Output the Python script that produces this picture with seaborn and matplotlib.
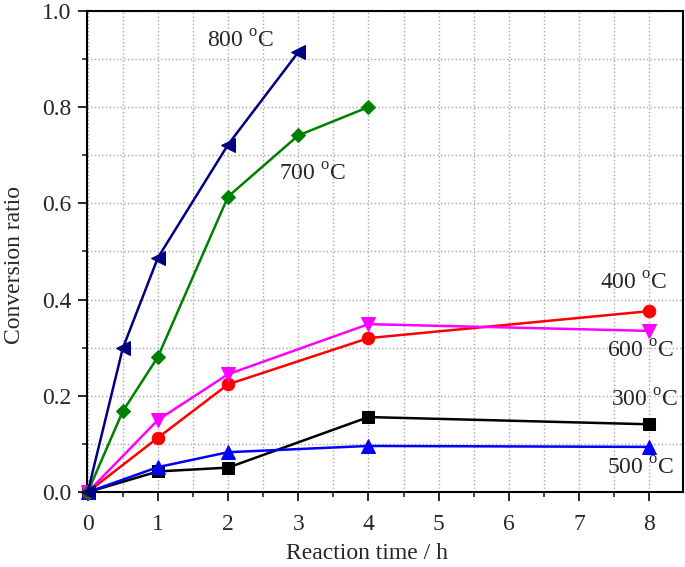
import numpy as np
import pandas as pd
import matplotlib
matplotlib.use("Agg")
import matplotlib.pyplot as plt
import seaborn as sns
from matplotlib.ticker import MultipleLocator

# Data
t_800 = [0, 0.5, 1, 2, 3]
y_800 = [0.0, 0.299, 0.487, 0.722, 0.914]

t_700 = [0, 0.5, 1, 2, 3, 4]
y_700 = [0.0, 0.168, 0.281, 0.614, 0.741, 0.800]

t_600 = [0, 1, 2, 4, 8]
y_600 = [0.0, 0.150, 0.245, 0.349, 0.335]

t_500 = [0, 1, 2, 4, 8]
y_500 = [0.0, 0.052, 0.083, 0.096, 0.094]

t_400 = [0, 1, 2, 4, 8]
y_400 = [0.0, 0.113, 0.224, 0.320, 0.376]

t_300 = [0, 1, 2, 4, 8]
y_300 = [0.0, 0.043, 0.051, 0.156, 0.141]

series = [
    ("300", t_300, y_300, "black", "s"),
    ("500", t_500, y_500, "blue", "^"),
    ("400", t_400, y_400, "red", "o"),
    ("600", t_600, y_600, "magenta", "v"),
    ("700", t_700, y_700, "green", "D"),
    ("800", t_800, y_800, "navy", "<"),
]

# label positions (data coords)
label_pos = {
    "800": (2.18, 0.936),
    "700": (3.20, 0.660),
    "400": (7.78, 0.433),
    "600": (7.88, 0.291),
    "300": (7.93, 0.191),
    "500": (7.88, 0.048),
}

sns.set_style("ticks")
plt.rcParams["font.family"] = ["Liberation Serif", "DejaVu Serif"]
plt.rcParams["mathtext.fontset"] = "custom"
plt.rcParams["mathtext.rm"] = "Liberation Serif"

fig = plt.figure(figsize=(6.85, 5.67), dpi=100)
ax = fig.add_axes([0.127, 0.132, 0.870, 0.849])

for name, t, y, color, marker in series:
    df = pd.DataFrame({"t": t, "y": y})
    ms = {"o": 9, "s": 8.5, "D": 7.5}.get(marker, 10)
    sns.lineplot(data=df, x="t", y="y", ax=ax, color=color, marker=marker,
                 markersize=ms, markeredgecolor=color, linewidth=1.8,
                 clip_on=False, zorder=3)

for name, (x, y) in label_pos.items():
    ax.text(x, y, name + r" $^{\mathrm{o}}$C", fontsize=17, ha="center", va="center")

ax.set_xlim(-0.01, 8.48)
ax.set_ylim(0, 1.0)
ax.xaxis.set_major_locator(MultipleLocator(1))
ax.xaxis.set_minor_locator(MultipleLocator(0.5))
ax.yaxis.set_major_locator(MultipleLocator(0.2))
ax.yaxis.set_minor_locator(MultipleLocator(0.1))
ax.set_yticklabels([f"{v:.1f}" for v in ax.get_yticks()])

ax.grid(True, which="both", color="#a8a8a8", linestyle=":", linewidth=1.0)
ax.set_axisbelow(True)

ax.tick_params(which="major", direction="out", length=6.5, width=1.4, labelsize=17,
               top=False, right=False)
ax.tick_params(axis="x", which="major", pad=9)
ax.tick_params(axis="y", which="major", pad=5)
ax.tick_params(which="minor", direction="out", length=3.5, width=1.2,
               top=False, right=False)
for sp in ax.spines.values():
    sp.set_visible(True)
    sp.set_linewidth(1.5)
    sp.set_color("black")

ax.set_xlabel("Reaction time / h", fontsize=17)
ax.set_ylabel("Conversion ratio", fontsize=17)
ax.xaxis.set_label_coords((367 - 87) / 596, -0.105)
ax.yaxis.set_label_coords(-0.104, (492 - 265) / 481)

fig.savefig("out.png", dpi=100)
